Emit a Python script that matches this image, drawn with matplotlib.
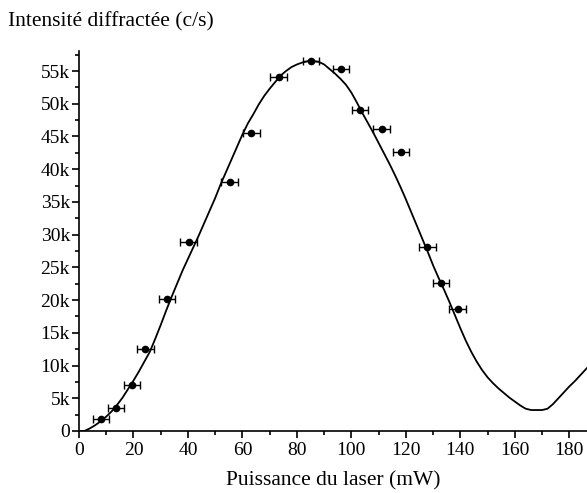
import matplotlib
matplotlib.use('Agg')
from matplotlib import pyplot as plt
from matplotlib.ticker import MultipleLocator, FuncFormatter

# measured points
puissance = [8, 13.5, 19.4, 24.4, 32.3, 40.2, 55.3, 63.3, 73.3, 85.1, 96.2, 103.2, 111.1, 118.1, 127.9, 133.0, 139.0]
intensite = [1.9, 3.5, 7.0, 12.6, 20.1, 28.9, 38.0, 45.5, 54.1, 56.6, 55.3, 49.1, 46.1, 42.6, 28.1, 22.6, 18.6]
err_p = 3.0

fit_x = list(range(0, 190, 2))
fit_y = [0, 0, 0.4, 0.9, 1.5, 2.2, 3.0, 4.0, 5.1, 6.4,
         7.7, 9.1, 10.6, 12.1, 14.1, 16.2, 18.4, 20.5, 22.5, 24.5,
         26.3, 28.1, 29.9, 31.8, 33.7, 35.6, 37.7, 39.6, 41.5, 43.4,
         45.3, 47.0, 48.4, 49.9, 51.2, 52.3, 53.3, 54.3, 55.0, 55.6,
         56.0, 56.3, 56.5, 56.5, 56.4, 56.0, 55.3, 54.6, 53.8, 52.9,
         51.7, 50.2, 48.6, 47.1, 45.6, 44.0, 42.4, 40.8, 39.1, 37.3,
         35.4, 33.4, 31.4, 29.4, 27.4, 25.3, 23.4, 21.6, 19.7, 17.7,
         15.7, 13.8, 12.1, 10.6, 9.3, 8.2, 7.3, 6.5, 5.8, 5.1,
         4.5, 3.9, 3.4, 3.2, 3.2, 3.2, 3.4, 4.1, 5.0, 5.9,
         6.8, 7.6, 8.5, 9.4, 10.3]

plt.rcParams['font.family'] = 'Liberation Serif'

fig = plt.figure(figsize=(5.87, 4.93), dpi=100)
ax = fig.add_axes([0.1346, 0.1258, 0.8654, 0.77])

ax.plot(fit_x, [v * 1000 for v in fit_y], color='black', lw=1.3)
ax.errorbar(puissance, [v * 1000 for v in intensite], xerr=err_p, fmt='o', color='black',
            ms=4.5, elinewidth=1, capsize=3, capthick=1)

ax.set_xlim(0, 186.5)
ax.set_ylim(0, 58000)
ax.spines['top'].set_visible(False)
ax.spines['right'].set_visible(False)
ax.spines['left'].set_linewidth(1.2)
ax.spines['bottom'].set_linewidth(1.2)
ax.xaxis.set_major_locator(MultipleLocator(20))
ax.xaxis.set_minor_locator(MultipleLocator(10))
ax.yaxis.set_major_locator(MultipleLocator(5000))
ax.yaxis.set_minor_locator(MultipleLocator(2500))
ax.yaxis.set_major_formatter(FuncFormatter(lambda v, p: '0' if v == 0 else f'{int(v/1000)}k'))
ax.tick_params(which='major', direction='out', length=5, width=1.2, labelsize=14, pad=3)
ax.tick_params(axis='y', pad=1.5)
ax.tick_params(which='minor', direction='out', length=3, width=1.2)

ax.set_xlabel('Puissance du laser (mW)', fontsize=15.5, labelpad=9)
fig.text(0.013, 0.955, 'Intensité diffractée (c/s)', fontsize=15.5, ha='left', va='center')

plt.savefig('out.png', dpi=100)
